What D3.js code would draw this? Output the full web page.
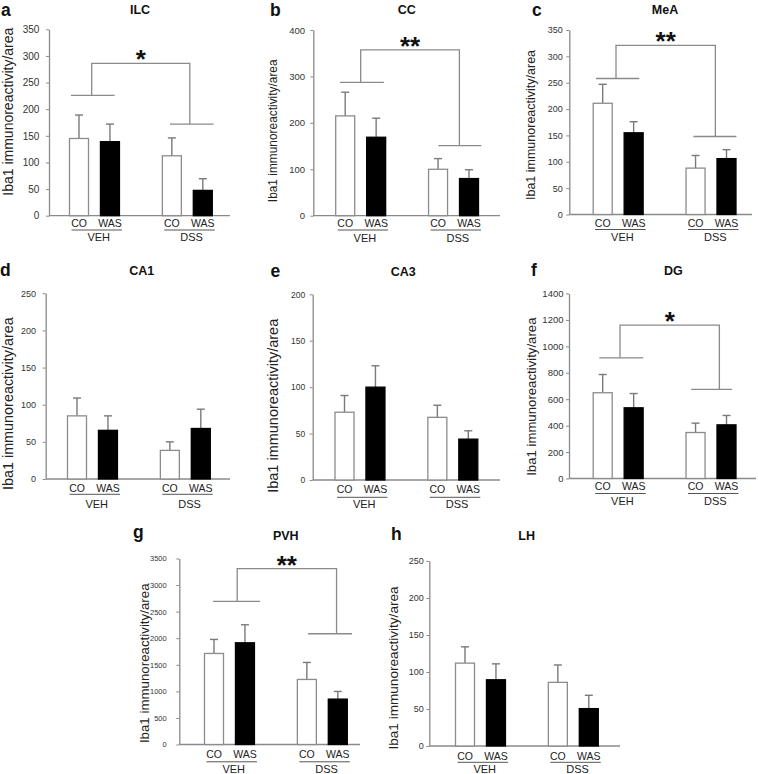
<!DOCTYPE html>
<html><head><meta charset="utf-8">
<script src="https://cdn.jsdelivr.net/npm/d3@7"></script>
<style>
body{margin:0;background:#fff}
svg{display:block}
text{font-family:"Liberation Sans",Arial,Helvetica,sans-serif}
</style>
</head><body>
<svg id="chart" width="758" height="774"></svg>
<script>
// ---------------- DATA ----------------
const panelLetters = ["a","b","c","d","e","f","g","h"];
const regions = ["ILC","CC","MeA","CA1","CA3","DG","PVH","LH"];
const treatments = ["CO","WAS"];
const groups = ["VEH","DSS"];
const yAxisLabel = "Iba1 immunoreactivity/area";
const yMax  = [350, 400, 350, 250, 200, 1400, 3500, 250];
const yStep = [50, 100, 50, 50, 50, 200, 500, 50];

// values order: VEH-CO, VEH-WAS, DSS-CO, DSS-WAS
const meanILC = [145, 139, 112.5, 47.5];   const semILC = [44, 33, 33.5, 22];
const meanCC  = [215, 169, 100, 80];       const semCC  = [51, 41, 23, 19];
const meanMeA = [211, 155, 88, 106];       const semMeA = [36, 21, 24, 17];
const meanCA1 = [85, 65.5, 38.5, 68];      const semCA1 = [24, 19.5, 11.5, 26];
const meanCA3 = [73, 100, 67.5, 44];       const semCA3 = [18, 23, 13, 9];
const meanDG  = [649, 535, 348, 406];      const semDG  = [138, 108, 71, 71];
const meanPVH = [1713, 1914, 1224, 854];   const semPVH = [264, 339, 320, 144];
const meanLH  = [112, 89.5, 86, 50.5];     const semLH  = [22, 21.5, 23.5, 18];

const means = [meanILC, meanCC, meanMeA, meanCA1, meanCA3, meanDG, meanPVH, meanLH];
const sems  = [semILC, semCC, semMeA, semCA1, semCA3, semDG, semPVH, semLH];

// significance: star text and bracket levels [VEH line, top line, DSS line]
const sigStars  = ["*", "**", "**", null, null, "*", "**", null];
const sigLevels = [[226,286,172],[287,357,151],[258,321,148],null,null,[913,1160,674],[2692,3311,2084],null];

// ---------------- LAYOUT ----------------
const layout = [
  {axisX:49,    yTop:29.3,  y0:215.7, xEnd:230, first:79,    letter:[1,16],     title:[140,13.5],   ylab:[13,111.7,14],  off:[11,14.3,25.3], tick:[10,9.7]},
  {axisX:313.3, yTop:30,    y0:215.7, xEnd:500, first:345.2, letter:[270,16],   title:[406.8,13.5], ylab:[276.5,130.8,11.9],off:[11,14.3,26],  tick:[9.5,8.3]},
  {axisX:569.3, yTop:30,    y0:214.5, xEnd:752, first:602.7, letter:[532,16],   title:[665,13.5],   ylab:[535,125,12.5], off:[12.2,15,26.2], tick:[9,6.5]},
  {axisX:45.7,  yTop:293.3, y0:479,   xEnd:230, first:77,    letter:[0,276],    title:[141.7,275],  ylab:[13.3,403.7,14.4],off:[12.7,15.3,29.3],tick:[9,9.7]},
  {axisX:312.7, yTop:294.3, y0:480,   xEnd:500, first:344.5, letter:[270.5,277],title:[403.3,276],  ylab:[277.5,405.8,14.5],off:[13.3,17.3,28.3],tick:[8.5,7.5]},
  {axisX:569,   yTop:293.5, y0:478.5, xEnd:756, first:602.7, letter:[531,276],  title:[673.3,275],  ylab:[536,396.7,13.2],off:[11.5,15,26.5], tick:[9.5,5.5]},
  {axisX:179.3, yTop:558.5, y0:744.5, xEnd:360, first:214,   letter:[133,538],  title:[285.8,540],  ylab:[149,663.3,13.3],off:[13.3,17.3,28.3],tick:[7.5,12.6]},
  {axisX:429.3, yTop:561,   y0:746,   xEnd:620, first:465,   letter:[391,540],  title:[526.7,540],  ylab:[397.5,668,13.6], off:[14,16.3,27.3], tick:[9,5.5]}
];
// bracket x geometry in bar-position units: [vehFrom, vehTo, vehStem, dssFrom, dssTo, dssStem]
const bracketX = [
  [-0.26,1.15,0.41, 2.94,4.35,3.58],
  [-0.17,1.25,0.50, 3.01,4.40,3.69],
  [-0.22,1.18,0.43, 2.93,4.32,3.64],
  null,null,
  [-0.11,1.31,0.56, 2.86,4.18,3.77],
  [-0.03,1.49,0.75, 3.04,4.46,3.96],
  null
];
const unit = 30.95, barW = 19;
const positions = [0, 1, 3, 4];
const axisColor = "#8a8a8a", errColor = "#7a7a7a", brColor = "#8a8a8a";

const svg = d3.select("#chart");

regions.forEach((region, p) => {
  const L = layout[p];
  const g = svg.append("g");
  const y = d3.scaleLinear().domain([0, yMax[p]]).range([L.y0, L.yTop]);
  const x = d3.scaleLinear().domain([0, 4]).range([L.first, L.first + 4 * unit]);

  // panel letter & title
  g.append("text").attr("x", L.letter[0]).attr("y", L.letter[1])
    .attr("font-size", 17.5).attr("font-weight", "bold").attr("fill", "#111").text(panelLetters[p]);
  g.append("text").attr("x", L.title[0]).attr("y", L.title[1]).attr("text-anchor", "middle")
    .attr("font-size", 12.5).attr("font-weight", "bold").attr("fill", "#111").text(region);

  // y axis
  const ax = g.append("g").attr("transform", `translate(${L.axisX},0)`)
    .call(d3.axisLeft(y).tickValues(d3.range(0, yMax[p] + 1, yStep[p])).tickSize(3).tickSizeOuter(0)
      .tickPadding(L.tick[1] - 3).tickFormat(d3.format("d")));
  ax.select(".domain").attr("stroke", axisColor).attr("stroke-width", 1.3);
  ax.selectAll(".tick line").attr("stroke", axisColor);
  ax.selectAll(".tick text").attr("font-size", L.tick[0]).attr("fill", "#333")
    .attr("font-family", '"Liberation Sans",Arial,sans-serif');

  // x axis line
  g.append("line").attr("x1", L.axisX).attr("x2", L.xEnd).attr("y1", L.y0).attr("y2", L.y0)
    .attr("stroke", axisColor).attr("stroke-width", 1.3);

  // y label
  g.append("text").attr("transform", `translate(${L.ylab[0]},${L.ylab[1]}) rotate(-90)`)
    .attr("text-anchor", "middle").attr("font-size", L.ylab[2]).attr("fill", "#222").text(yAxisLabel);

  const vals = means[p], errs = sems[p];
  const recs = vals.map((v, i) => ({v, e: errs[i], pos: positions[i], t: treatments[i % 2], grp: groups[Math.floor(i / 2)]}));

  // error bars (upward only)
  const eg = g.append("g").attr("stroke", errColor).attr("stroke-width", 1.4);
  recs.forEach(d => {
    eg.append("line").attr("x1", x(d.pos)).attr("x2", x(d.pos)).attr("y1", y(d.v)).attr("y2", y(d.v + d.e));
    eg.append("line").attr("x1", x(d.pos) - 4).attr("x2", x(d.pos) + 4).attr("y1", y(d.v + d.e)).attr("y2", y(d.v + d.e));
  });

  // bars
  g.selectAll("rect.bar").data(recs).join("rect")
    .attr("x", d => x(d.pos) - barW / 2).attr("width", barW)
    .attr("y", d => y(d.v)).attr("height", d => y(0) - y(d.v))
    .attr("fill", d => d.t === "CO" ? "#fff" : "#000")
    .attr("stroke", d => d.t === "CO" ? "#8c8c8c" : "#000").attr("stroke-width", 1.3);

  // category labels
  recs.forEach(d => {
    g.append("text").attr("x", x(d.pos)).attr("y", L.y0 + L.off[0]).attr("text-anchor", "middle")
      .attr("font-size", 10.5).attr("fill", "#222").text(d.t);
  });
  groups.forEach((grp, gi) => {
    const a = x(positions[gi * 2]) - 7.5, b = x(positions[gi * 2 + 1]) + 12;
    g.append("line").attr("x1", a).attr("x2", b).attr("y1", L.y0 + L.off[1]).attr("y2", L.y0 + L.off[1])
      .attr("stroke", "#555").attr("stroke-width", 1);
    g.append("text").attr("x", (a + b) / 2 + 2).attr("y", L.y0 + L.off[2]).attr("text-anchor", "middle")
      .attr("font-size", 11).attr("fill", "#222").text(grp);
  });

  // significance bracket
  if (sigLevels[p]) {
    const [lv, lt, ld] = sigLevels[p];
    const bx = bracketX[p];
    const bg = g.append("g").attr("stroke", brColor).attr("stroke-width", 1.3).attr("fill", "none");
    bg.append("line").attr("x1", x(bx[0])).attr("x2", x(bx[1])).attr("y1", y(lv)).attr("y2", y(lv));
    bg.append("line").attr("x1", x(bx[3])).attr("x2", x(bx[4])).attr("y1", y(ld)).attr("y2", y(ld));
    bg.append("path").attr("d", `M${x(bx[2])},${y(lv)}V${y(lt)}H${x(bx[5])}V${y(ld)}`);
    g.append("text").attr("x", (x(bx[2]) + x(bx[5])) / 2).attr("y", y(lt) + 5)
      .attr("text-anchor", "middle").attr("font-size", 26).attr("font-weight", "bold").attr("fill", "#111")
      .text(sigStars[p]);
  }
});
</script>
</body></html>
